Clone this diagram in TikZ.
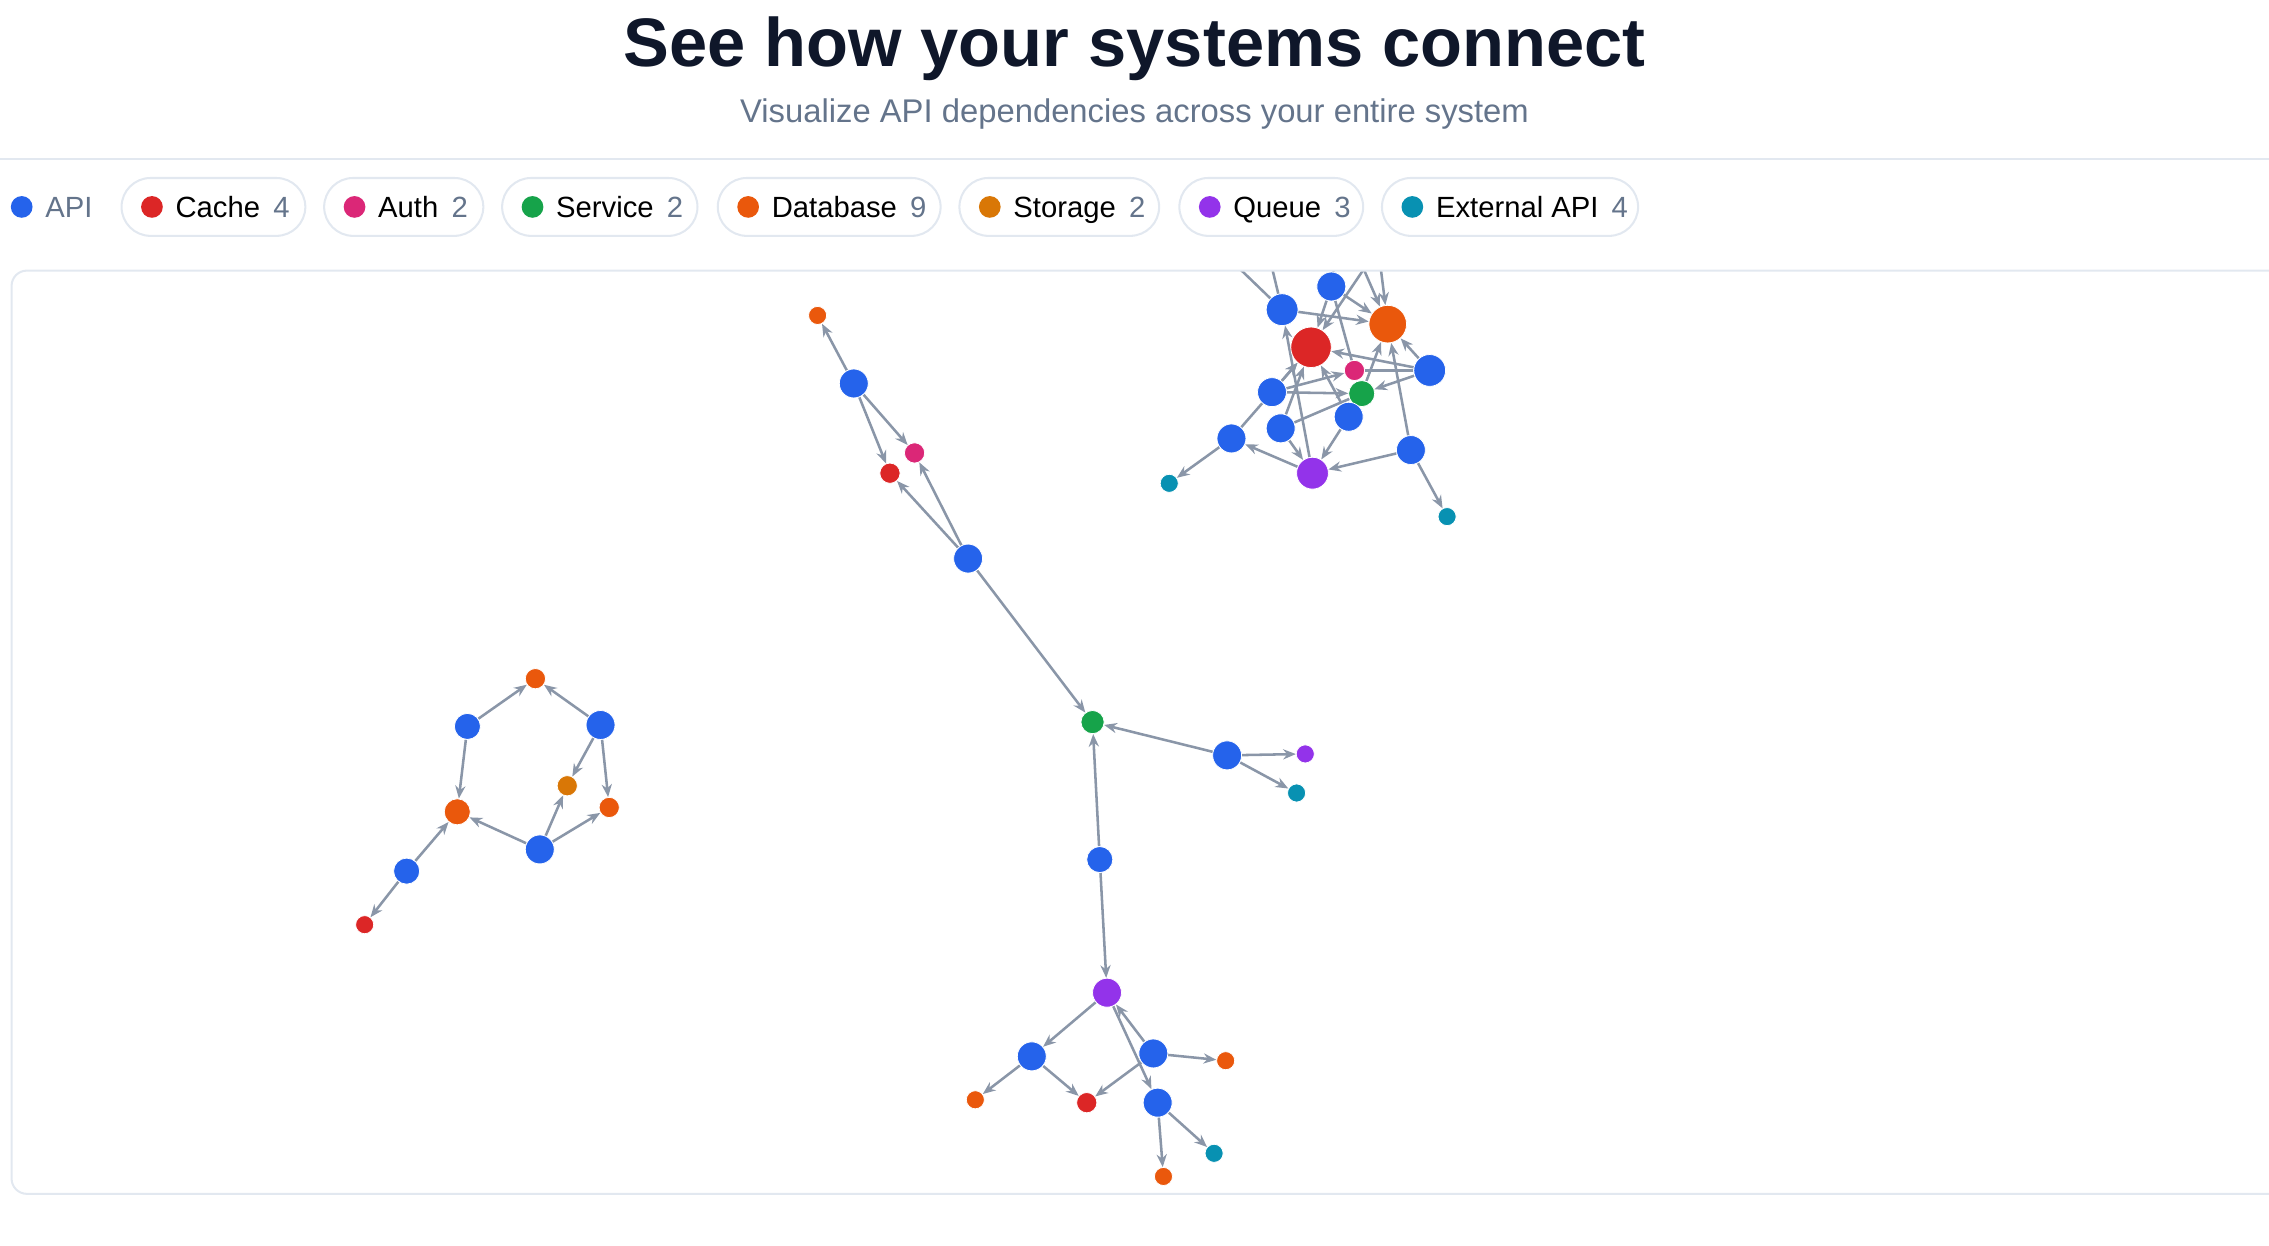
\documentclass[tikz,border=0pt]{standalone}
\usepackage{fontspec}
\setmainfont{Liberation Sans}
\usetikzlibrary{arrows.meta,backgrounds}
\definecolor{cApi}{HTML}{2563EB}
\definecolor{cCache}{HTML}{DC2626}
\definecolor{cAuth}{HTML}{DB2777}
\definecolor{cSvc}{HTML}{16A34A}
\definecolor{cDb}{HTML}{EA580C}
\definecolor{cSto}{HTML}{D97706}
\definecolor{cQ}{HTML}{9333EA}
\definecolor{cExt}{HTML}{0891B2}
\definecolor{cEdge}{HTML}{8A96A8}
\definecolor{cTitle}{HTML}{0F172A}
\definecolor{cSub}{HTML}{64748B}
\definecolor{cLine}{HTML}{E2E8F0}
\begin{document}
\begin{tikzpicture}[x=0.02cm,y=-0.02cm,
  n/.style={circle,inner sep=0pt,draw=white,line width=0.3pt},
  r14/.style={n,minimum size=0.56cm},
  r13/.style={n,minimum size=0.52cm},
  r11/.style={n,minimum size=0.44cm},
  r10/.style={n,minimum size=0.40cm},
  r9/.style={n,minimum size=0.36cm},
  r8/.style={n,minimum size=0.32cm},
  r7/.style={n,minimum size=0.28cm},
  r6/.style={n,minimum size=0.25cm},
  e/.style={draw=cEdge,line width=1pt,-{Stealth[length=5pt,width=4pt]}},
  el/.style={draw=cEdge,line width=1pt},
  pill/.style={draw=cLine,line width=0.8pt,rounded corners=0.4cm,fill=white},
  dot/.style={circle,inner sep=0pt,minimum size=0.3cm},
  lab/.style={anchor=base west,font=\fontsize{11.5pt}{13pt}\selectfont,text=black,inner sep=0pt},
  cnt/.style={anchor=base west,font=\fontsize{11.5pt}{13pt}\selectfont,text=cSub,inner sep=0pt}]
\useasboundingbox (0,0) rectangle (1568,861);
\node[font=\bfseries\fontsize{27pt}{32pt}\selectfont,text=cTitle] (title) at (784,34) {See how your systems connect};
\node[font=\fontsize{12.9pt}{15pt}\selectfont,text=cSub] (sub) at (784,79) {Visualize API dependencies across your entire system};
\draw[cLine,line width=0.8pt] (0,110) -- (1568,110);
% legend
\node[dot,fill=cApi] (lApi) at (15,143) {};
\node[cnt] (tApi) at (31,150) {API};
\foreach \a/\b/\col/\name/\num in {84/211/cCache/Cache/4,224/334/cAuth/Auth/2,347/482/cSvc/Service/2,496/650/cDb/Database/9,663/801/cSto/Storage/2,815/942/cQ/Queue/3,955/1132/cExt/External API/4}{
  \draw[pill] (\a,123) rectangle (\b,163);
  \node[dot,fill=\col] (d\a) at (\a+21,143) {};
  \node[lab] (t\a) at (\a+37,150) {\name\hspace{0.45em}\textcolor{cSub}{\num}};
}
% frame
\draw[cLine,line width=0.8pt,rounded corners=6pt] (8,187) rectangle (1600,825);
% ---- top cluster
\node[r11,fill=cApi] (A1) at (886,214) {};
\node[r10,fill=cApi] (A2) at (920,198) {};
\node[r14,fill=cCache] (R) at (906,240) {};
\node[r13,fill=cDb] (O) at (959,224) {};
\node[r11,fill=cApi] (B3) at (988,256) {};
\node[r7,fill=cAuth] (P) at (936,256) {};
\node[r9,fill=cSvc] (G) at (941,272) {};
\node[r10,fill=cApi] (B4) at (879,271) {};
\node[r10,fill=cApi] (B5) at (885,296) {};
\node[r10,fill=cApi] (B6) at (932,288) {};
\node[r10,fill=cApi] (B7) at (851,303) {};
\node[r11,fill=cQ] (Q) at (907,327) {};
\node[r10,fill=cApi] (B8) at (975,311) {};
\node[r6,fill=cExt] (T1) at (808,334) {};
\node[r6,fill=cExt] (T2) at (1000,357) {};
\coordinate (X1) at (830,160);
\coordinate (X2) at (873,160);
\coordinate (X3) at (925,160);
\coordinate (X4) at (960,160);
\coordinate (X5) at (951,160);
\coordinate (X6) at (931,160);
% ---- middle
\node[r6,fill=cDb] (M1) at (565,218) {};
\node[r10,fill=cApi] (M2) at (590,265) {};
\node[r7,fill=cAuth] (M3) at (632,313) {};
\node[r7,fill=cCache] (M4) at (615,327) {};
\node[r10,fill=cApi] (M5) at (669,386) {};
\node[r8,fill=cSvc] (M6) at (755,499) {};
\node[r10,fill=cApi] (M7) at (848,522) {};
\node[r6,fill=cQ] (M8) at (902,521) {};
\node[r6,fill=cExt] (M9) at (896,548) {};
\node[r9,fill=cApi] (M10) at (760,594) {};
\node[r10,fill=cQ] (M11) at (765,686) {};
\node[r10,fill=cApi] (M12) at (713,730) {};
\node[r10,fill=cApi] (M13) at (797,728) {};
\node[r6,fill=cDb] (M14) at (847,733) {};
\node[r6,fill=cDb] (M15) at (674,760) {};
\node[r7,fill=cCache] (M16) at (751,762) {};
\node[r10,fill=cApi] (M17) at (800,762) {};
\node[r6,fill=cDb] (M18) at (804,813) {};
\node[r6,fill=cExt] (M19) at (839,797) {};
% ---- left
\node[r7,fill=cDb] (L1) at (370,469) {};
\node[r9,fill=cApi] (L2) at (323,502) {};
\node[r10,fill=cApi] (L3) at (415,501) {};
\node[r7,fill=cSto] (L4) at (392,543) {};
\node[r7,fill=cDb] (L5) at (421,558) {};
\node[r9,fill=cDb] (L6) at (316,561) {};
\node[r10,fill=cApi] (L7) at (373,587) {};
\node[r9,fill=cApi] (L8) at (281,602) {};
\node[r6,fill=cCache] (L9) at (252,639) {};
\begin{scope}[on background layer]
\clip[rounded corners=6pt] (8,187) rectangle (1600,825);
\draw[el] (A1) -- (X1);
\draw[el] (A1) -- (X2);
\draw[el] (A2) -- (X3);
\draw[e] (X4) -- (R);
\draw[e] (X5) -- (O);
\draw[e] (X6) -- (O);
\draw[e] (A1) -- (O);
\draw[e] (A2) -- (R);
\draw[e] (A2) -- (O);
\draw[el] (A2) -- (P);
\draw[e] (B3) -- (R);
\draw[el] (B3) -- (P);
\draw[e] (B3) -- (O);
\draw[e] (B3) -- (G);
\draw[e] (B4) -- (R);
\draw[e] (B4) -- (P);
\draw[e] (B4) -- (G);
\draw[e] (B5) -- (R);
\draw[el] (B5) -- (G);
\draw[e] (B5) -- (Q);
\draw[e] (B6) -- (Q);
\draw[e] (B6) -- (R);
\draw[e] (G) -- (O);
\draw[e] (Q) -- (A1);
\draw[e] (Q) -- (B7);
\draw[e] (B7) -- (R);
\draw[e] (B7) -- (T1);
\draw[e] (B8) -- (Q);
\draw[e] (B8) -- (O);
\draw[e] (B8) -- (T2);
% middle
\draw[e] (M2) -- (M1);
\draw[e] (M2) -- (M3);
\draw[e] (M2) -- (M4);
\draw[e] (M5) -- (M3);
\draw[e] (M5) -- (M4);
\draw[e] (M5) -- (M6);
\draw[e] (M7) -- (M6);
\draw[e] (M7) -- (M8);
\draw[e] (M7) -- (M9);
\draw[e] (M10) -- (M6);
\draw[e] (M10) -- (M11);
\draw[e] (M11) -- (M12);
\draw[e] (M13) -- (M11);
\draw[e] (M11) -- (M17);
\draw[e] (M12) -- (M15);
\draw[e] (M12) -- (M16);
\draw[e] (M13) -- (M16);
\draw[e] (M13) -- (M14);
\draw[e] (M17) -- (M18);
\draw[e] (M17) -- (M19);
% left
\draw[e] (L2) -- (L1);
\draw[e] (L3) -- (L1);
\draw[e] (L2) -- (L6);
\draw[e] (L3) -- (L4);
\draw[e] (L3) -- (L5);
\draw[e] (L7) -- (L6);
\draw[e] (L7) -- (L4);
\draw[e] (L7) -- (L5);
\draw[e] (L8) -- (L6);
\draw[e] (L8) -- (L9);
\end{scope}
\end{tikzpicture}
\end{document}
